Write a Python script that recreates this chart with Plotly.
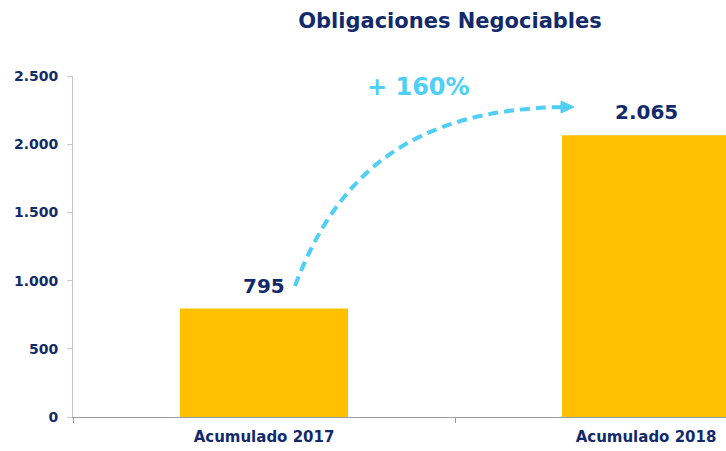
import plotly.graph_objects as go

categories = ["Acumulado 2017", "Acumulado 2018"]
values = [795, 2065]
growth_label = "+ 160%"
title_text = "Obligaciones Negociables"
y_ticks = [0, 500, 1000, 1500, 2000, 2500]

NAVY = "#122a6b"
GOLD = "#ffc000"
CYAN = "#4fcff5"
FONT = "DejaVu Sans"

W, H = 726, 451
L, R, T, B = 73, 0, 76, 34
pw, ph = W - L - R, H - T - B
CAT_PX = 382


def px(x, y):
    return (x - L) / pw, (H - B - y) / ph


fig = go.Figure()
fig.add_trace(go.Bar(
    x=categories, y=values, width=168 / CAT_PX,
    marker=dict(color=GOLD, line=dict(width=0)),
    cliponaxis=True, hoverinfo="skip",
))

# value labels
for cat, val in zip(categories, values):
    fig.add_annotation(x=cat, y=val, xref="x", yref="y",
                       text=f"{val:,d}".replace(",", "."),
                       showarrow=False, xanchor="center", yanchor="middle", yshift=23,
                       font=dict(family=FONT, size=20, color=NAVY, weight=700))

# dashed curved arrow
p0, p1, p2, p3 = px(295, 286), px(337, 175), px(410, 110), px(562, 107)
path = f"M {p0[0]},{p0[1]} C {p1[0]},{p1[1]} {p2[0]},{p2[1]} {p3[0]},{p3[1]}"
fig.add_shape(type="path", xref="paper", yref="paper", path=path,
              line=dict(color=CYAN, width=4, dash="10px,6px"))
a, b, c = px(561, 101), px(574, 107), px(561, 113)
fig.add_shape(type="path", xref="paper", yref="paper",
              path=f"M {a[0]},{a[1]} L {b[0]},{b[1]} L {c[0]},{c[1]} Z",
              fillcolor=CYAN, line=dict(color=CYAN, width=1))
gx, gy = px(418, 87)
fig.add_annotation(x=gx, y=gy, xref="paper", yref="paper", text=growth_label,
                   showarrow=False, xanchor="center", yanchor="middle",
                   font=dict(family=FONT, size=24, color=CYAN, weight=700))

fig.update_layout(
    width=W, height=H,
    margin=dict(l=L, r=R, t=T, b=B, pad=0),
    paper_bgcolor="white", plot_bgcolor="white",
    separators=",.",
    showlegend=False,
    title=dict(text=title_text, x=450 / W, xanchor="center", y=1 - 21 / H, yanchor="middle",
               font=dict(family=FONT, size=21, color=NAVY, weight=700)),
)
fig.update_xaxes(
    type="category", range=[-0.5, -0.5 + pw / CAT_PX],
    showline=True, linecolor="#9a9aaa", linewidth=1,
    ticks="outside", tickson="boundaries", ticklen=5, tickcolor="#9a9aaa",
    ticklabelstandoff=6,
    showgrid=False, zeroline=False,
    tickfont=dict(family=FONT, size=15, color=NAVY, weight=700),
)
fig.update_yaxes(
    range=[0, 2500], tickvals=y_ticks, tickformat=",d",
    showline=True, linecolor="#c4c4d2", linewidth=1,
    ticks="outside", ticklen=5, tickcolor="#c4c4d2",
    ticklabelstandoff=6,
    showgrid=False, zeroline=False,
    tickfont=dict(family=FONT, size=14, color=NAVY, weight=700),
)

fig.write_html("out.html", config={"displayModeBar": False},
               post_script="document.body.style.margin='0';")
